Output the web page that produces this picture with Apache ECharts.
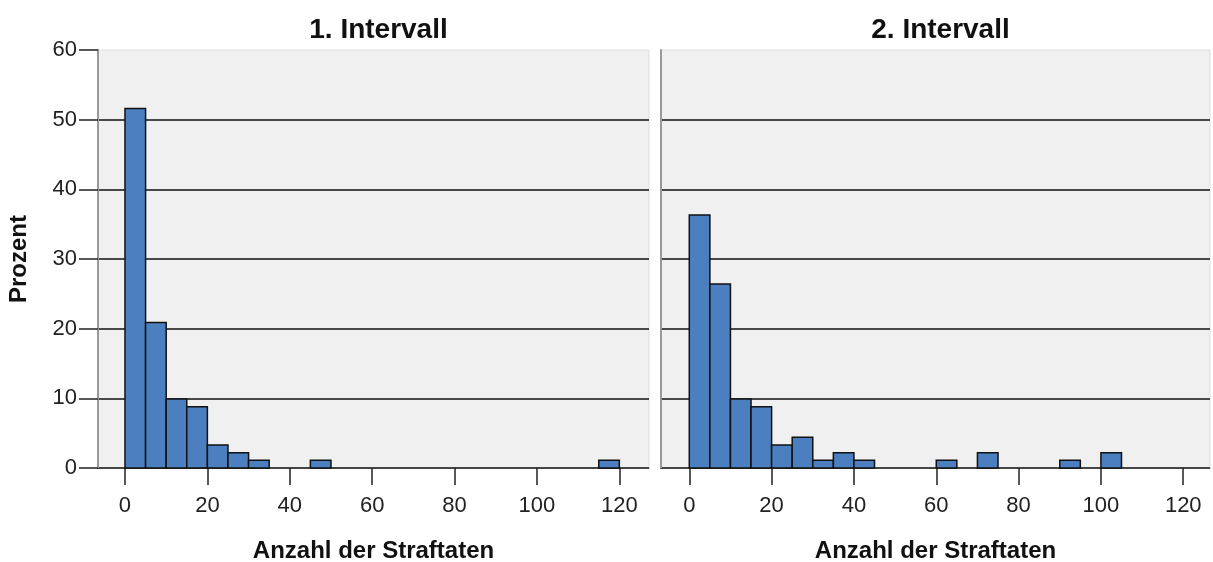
<!DOCTYPE html>
<html>
<head>
<meta charset="utf-8">
<script src="https://cdn.jsdelivr.net/npm/echarts@6/dist/echarts.min.js"></script>
<style>
html,body{margin:0;padding:0;background:#fff;}
#chart{width:1213px;height:562px;}
</style>
</head>
<body>
<div id="chart"></div>
<script>
const binWidth = 5;
const panelTitles = ['1. Intervall', '2. Intervall'];
const binStarts1 = [0, 5, 10, 15, 20, 25, 30, 45, 115];
const percent1 = [51.6, 20.9, 9.9, 8.8, 3.3, 2.2, 1.1, 1.1, 1.1];
const binStarts2 = [0, 5, 10, 15, 20, 25, 30, 35, 40, 60, 70, 90, 100];
const percent2 = [36.3, 26.4, 9.9, 8.8, 3.3, 4.4, 1.1, 2.2, 1.1, 1.1, 2.2, 1.1, 2.2];
const xTicks = [0, 20, 40, 60, 80, 100, 120];
const xAxisName = 'Anzahl der Straftaten';
const yAxisName = 'Prozent';

const FONT = 'Liberation Sans';
const barColor = '#4b7fbf';

function toData(starts, vals) {
  return starts.map((s, i) => [s, s + binWidth, vals[i]]);
}

function renderBar(params, api) {
  const p0 = api.coord([api.value(0), api.value(2)]);
  const p1 = api.coord([api.value(1), 0]);
  return {
    type: 'rect',
    shape: { x: p0[0], y: p0[1], width: p1[0] - p0[0], height: p1[1] - p0[1] },
    style: { fill: barColor, stroke: '#111', lineWidth: 1.5 }
  };
}

const grids = [
  { left: 98, top: 50, width: 551, height: 418 },
  { left: 661, top: 50, width: 549, height: 418 }
];
const xRanges = [[-6.55, 127.2], [-6.87, 126.5]];

function makeX(i) {
  return {
    type: 'value', gridIndex: i, min: xRanges[i][0], max: xRanges[i][1],
    name: xAxisName, nameLocation: 'middle', nameGap: 71,
    nameTextStyle: { fontFamily: FONT, fontWeight: 'bold', fontSize: 24, color: '#111' },
    axisLine: { show: true, onZero: false, lineStyle: { color: '#444', width: 1 } },
    axisTick: { show: true, length: 17, customValues: xTicks, lineStyle: { color: '#222', width: 1.5 } },
    axisLabel: { customValues: xTicks, margin: 27, fontFamily: FONT, fontSize: 22, color: '#222' },
    splitLine: { show: false }
  };
}
function makeY(i) {
  return {
    type: 'value', gridIndex: i, min: 0, max: 60, interval: 10,
    name: i === 0 ? yAxisName : '', nameLocation: 'middle', nameGap: 67,
    nameTextStyle: { fontFamily: FONT, fontWeight: 'bold', fontSize: 24, color: '#111' },
    axisLine: { show: true, onZero: false, lineStyle: { color: '#999', width: 2 } },
    axisTick: { show: i === 0, length: 19, lineStyle: { color: '#222', width: 1.5 } },
    axisLabel: { show: i === 0, margin: 21, fontFamily: FONT, fontSize: 22, color: '#222' },
    splitLine: { show: true, showMinLine: true, showMaxLine: false, lineStyle: { color: '#111', width: 1.5 } }
  };
}

const option = {
  animation: false,
  backgroundColor: '#fff',
  title: panelTitles.map((t, i) => ({
    text: t,
    left: grids[i].left + grids[i].width / 2,
    top: 11,
    textAlign: 'center',
    textStyle: { fontFamily: FONT, fontWeight: 'bold', fontSize: 28, color: '#111' }
  })),
  grid: grids.map(g => Object.assign({ show: true, backgroundColor: '#f0f0f0', borderColor: '#dedede', borderWidth: 1, containLabel: false, outerBoundsMode: 'none' }, g)),
  xAxis: [makeX(0), makeX(1)],
  yAxis: [makeY(0), makeY(1)],
  series: [
    { type: 'custom', xAxisIndex: 0, yAxisIndex: 0, renderItem: renderBar, data: toData(binStarts1, percent1), encode: { x: [0, 1], y: 2 } },
    { type: 'custom', xAxisIndex: 1, yAxisIndex: 1, renderItem: renderBar, data: toData(binStarts2, percent2), encode: { x: [0, 1], y: 2 } }
  ]
};

const chart = echarts.init(document.getElementById('chart'), null, { renderer: 'canvas' });
chart.setOption(option);
</script>
</body>
</html>
